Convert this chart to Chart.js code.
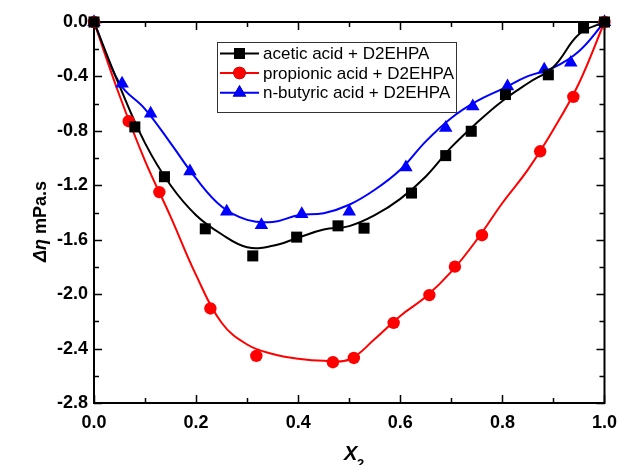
<!DOCTYPE html>
<html>
<head>
<meta charset="utf-8">
<script src="https://cdn.jsdelivr.net/npm/chart.js@4.4.1/dist/chart.umd.min.js"></script>
<style>
  html, body { margin: 0; padding: 0; background: #fff; }
  #wrap { width: 626px; height: 465px; }
</style>
</head>
<body>
<div id="wrap"><canvas id="viscChart" width="626" height="465"></canvas></div>
<script>
// measured points, x2 vs delta eta (mPa.s)
const aceticX = [0, 0.080, 0.138, 0.218, 0.311, 0.397, 0.478, 0.529, 0.622, 0.689, 0.739, 0.806, 0.890, 0.959, 1.0];
const aceticY = [0, -0.771, -1.137, -1.520, -1.719, -1.581, -1.498, -1.515, -1.257, -0.982, -0.803, -0.533, -0.388, -0.044, 0];

const propX = [0, 0.068, 0.128, 0.228, 0.318, 0.468, 0.509, 0.587, 0.657, 0.707, 0.760, 0.874, 0.939, 1.0];
const propY = [0, -0.729, -1.250, -2.105, -2.454, -2.500, -2.469, -2.211, -2.007, -1.798, -1.567, -0.950, -0.550, 0];

const butX = [0, 0.055, 0.111, 0.188, 0.260, 0.328, 0.407, 0.500, 0.611, 0.689, 0.742, 0.810, 0.882, 0.934, 1.0];
const butY = [0, -0.452, -0.673, -1.098, -1.393, -1.493, -1.412, -1.393, -1.068, -0.778, -0.619, -0.472, -0.349, -0.299, 0];

// fitted curves, read every 0.05
const fitX = [0, 0.05, 0.10, 0.15, 0.20, 0.25, 0.30, 0.35, 0.40, 0.45, 0.50, 0.55, 0.60, 0.65, 0.70, 0.75, 0.80, 0.85, 0.90, 0.95, 1.0];
const aceticFit = [0, -0.47, -0.89, -1.20, -1.42, -1.56, -1.655, -1.645, -1.585, -1.525, -1.50, -1.42, -1.30, -1.135, -0.92, -0.74, -0.58, -0.45, -0.33, -0.09, 0];
const propFit = [0, -0.54, -1.02, -1.43, -1.86, -2.21, -2.37, -2.44, -2.475, -2.49, -2.48, -2.33, -2.16, -2.02, -1.835, -1.60, -1.33, -1.085, -0.79, -0.45, 0];
const butFit = [0, -0.45, -0.64, -0.89, -1.15, -1.356, -1.454, -1.47, -1.42, -1.405, -1.343, -1.233, -1.086, -0.877, -0.705, -0.582, -0.491, -0.398, -0.336, -0.215, 0];

const labels = ['acetic acid + D2EHPA', 'propionic acid + D2EHPA', 'n-butyric acid + D2EHPA'];
const xMajor = 0.2, xMinor = 0.1;
const yMajor = 0.4, yMinor = 0.2;

const pts = (xs, ys) => xs.map((x, i) => ({x: x, y: ys[i]}));

function fitSet(xs, ys, color) {
  return {
    type: 'line',
    data: pts(xs, ys),
    borderColor: color,
    borderWidth: 2,
    pointRadius: 0,
    tension: 0.4,
    fill: false,
    clip: false,
    legendSkip: true
  };
}

function markSet(label, xs, ys, color, style, r) {
  return {
    type: 'scatter',
    label: label,
    data: pts(xs, ys),
    backgroundColor: color,
    borderColor: color,
    borderWidth: 0,
    pointStyle: style,
    pointRadius: r,
    pointHoverRadius: r,
    showLine: false,
    clip: false
  };
}

const FONT = '"Liberation Sans", Arial, sans-serif';
Chart.defaults.font.family = FONT;
Chart.defaults.color = '#000';

// frame, inward ticks, axis titles and the boxed legend
const framePlugin = {
  id: 'frame',
  beforeDatasetsDraw(chart) {
    const ctx = chart.ctx, a = chart.chartArea;
    const xs = chart.scales.x, ys = chart.scales.y;
    ctx.save();
    ctx.strokeStyle = '#000';
    ctx.lineWidth = 2;
    ctx.strokeRect(a.left, a.top, a.right - a.left, a.bottom - a.top);
    ctx.lineWidth = 1.5;
    ctx.beginPath();
    for (let v = 0; v <= 1.0001; v += xMinor) {
      const p = Math.round(xs.getPixelForValue(v)) + 0.5;
      const major = Math.abs(v / xMajor - Math.round(v / xMajor)) < 1e-6;
      const len = major ? 8 : 5;
      ctx.moveTo(p, a.bottom); ctx.lineTo(p, a.bottom - len);
      ctx.moveTo(p, a.top); ctx.lineTo(p, a.top + len);
    }
    for (let v = 0; v >= -2.8001; v -= yMinor) {
      const p = Math.round(ys.getPixelForValue(v)) + 0.5;
      const major = Math.abs(v / yMajor - Math.round(v / yMajor)) < 1e-6;
      const len = major ? 8 : 5;
      ctx.moveTo(a.left, p); ctx.lineTo(a.left + len, p);
      ctx.moveTo(a.right, p); ctx.lineTo(a.right - len, p);
    }
    ctx.stroke();
    ctx.restore();
  },
  afterDraw(chart) {
    const ctx = chart.ctx;
    ctx.save();
    ctx.fillStyle = '#000';
    ctx.textBaseline = 'alphabetic';

    // y title
    ctx.save();
    ctx.translate(46, 262);
    ctx.rotate(-Math.PI / 2);
    ctx.textAlign = 'left';
    ctx.font = 'italic bold 18px ' + FONT;
    const g = '\u0394\u03b7';
    ctx.fillText(g, 0, 0);
    const w = ctx.measureText(g).width;
    ctx.font = 'bold 18px ' + FONT;
    ctx.fillText(' mPa.s', w, 0);
    ctx.restore();

    // x title
    ctx.textAlign = 'left';
    ctx.font = 'italic bold 20px ' + FONT;
    ctx.fillText('X', 344, 460);
    ctx.font = 'bold 13px ' + FONT;
    ctx.fillText('2', 357, 468);

    // legend
    const bx = 217, by = 42, bw = 239, bh = 70;
    ctx.lineWidth = 1;
    ctx.strokeStyle = '#333';
    ctx.strokeRect(bx + 0.5, by + 0.5, bw, bh);
    const rows = [53.5, 73, 92.7];
    const sets = chart.data.datasets.filter(d => !d.legendSkip);
    sets.forEach((d, i) => {
      const y = rows[i];
      ctx.strokeStyle = d.borderColor;
      ctx.lineWidth = 2;
      ctx.beginPath();
      ctx.moveTo(220, y); ctx.lineTo(259, y);
      ctx.stroke();
      Chart.helpers.drawPoint(ctx, {
        pointStyle: d.pointStyle, radius: d.pointRadius, rotation: 0, borderWidth: 0
      }, 239.5, y);
      ctx.fillStyle = d.backgroundColor;
      ctx.fill();
      ctx.fillStyle = '#000';
      ctx.font = '17px ' + FONT;
      ctx.textBaseline = 'middle';
      ctx.fillText(d.label, 263, y + 1);
    });
    ctx.restore();
  }
};

new Chart(document.getElementById('viscChart').getContext('2d'), {
  data: {
    datasets: [
      markSet(labels[0], aceticX, aceticY, '#000000', 'rect', 7.8),
      markSet(labels[1], propX, propY, '#ff0000', 'circle', 6.2),
      markSet(labels[2], butX, butY, '#0000ff', 'triangle', 7.8),
      fitSet(fitX, aceticFit, '#000000'),
      fitSet(fitX, propFit, '#ff0000'),
      fitSet(fitX, butFit, '#0000ff')
    ]
  },
  options: {
    responsive: false,
    animation: false,
    layout: {padding: {left: 0, top: 22, right: 13, bottom: 0}},
    plugins: {legend: {display: false}, tooltip: {enabled: false}},
    scales: {
      x: {
        type: 'linear', min: 0, max: 1.0,
        grid: {display: false, drawTicks: false},
        border: {display: false},
        ticks: {stepSize: xMajor, padding: 9, font: {size: 18, weight: 'bold'},
                callback: v => v.toFixed(1)},
        afterFit: s => { s.height = 62; }
      },
      y: {
        type: 'linear', min: -2.8, max: 0,
        grid: {display: false, drawTicks: false},
        border: {display: false},
        ticks: {stepSize: yMajor, padding: 6, font: {size: 18, weight: 'bold'},
                callback: v => v.toFixed(1)},
        afterFit: s => { s.width = 94; }
      }
    }
  },
  plugins: [framePlugin]
});
</script>
</body>
</html>
